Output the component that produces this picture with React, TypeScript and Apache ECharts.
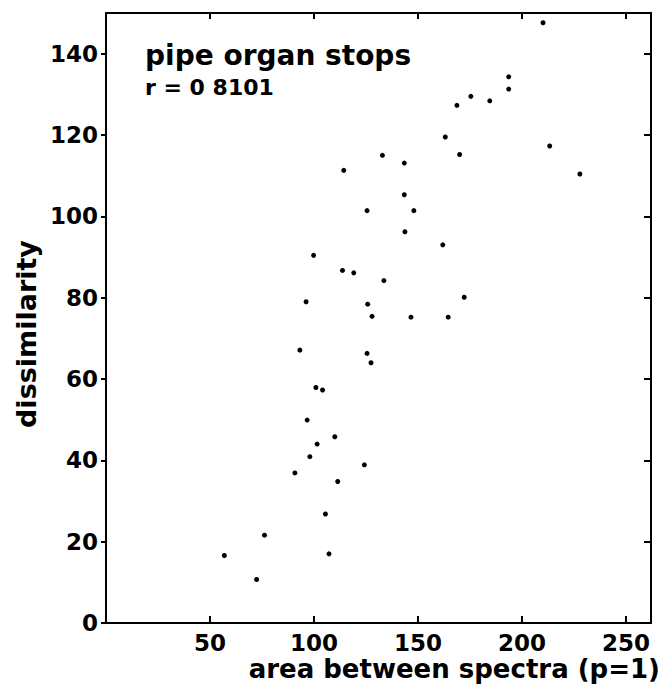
import React, { useEffect, useRef } from "react";
import * as echarts from "echarts";

const areaBetweenSpectra = [
  114.3, 210.1, 193.6, 193.6, 175.4, 184.5, 168.7, 163.1, 213.3, 132.9, 170.0, 143.4, 143.4, 227.8,
  125.5, 99.8, 113.7, 119.1, 96.2, 125.8, 127.9, 93.2, 125.5, 127.4, 100.9, 104.1,
  148.0, 143.7, 161.9, 133.6, 172.2, 146.6, 164.5,
  96.7, 110.0, 101.5, 98.0, 90.8, 124.2, 111.4, 105.5, 76.2, 107.2, 56.9, 72.4,
];
const dissimilarity = [
  111.3, 147.6, 134.3, 131.3, 129.5, 128.4, 127.3, 119.5, 117.3, 115.0, 115.2, 113.1, 105.3, 110.4,
  101.4, 90.4, 86.7, 86.1, 79.0, 78.4, 75.4, 67.1, 66.3, 64.0, 57.9, 57.3,
  101.4, 96.2, 93.0, 84.2, 80.1, 75.2, 75.2,
  49.9, 45.8, 44.0, 40.9, 36.9, 38.9, 34.8, 26.8, 21.6, 17.0, 16.6, 10.7,
];
const xTicks = [50, 100, 150, 200, 250];
const yTicks = [0, 20, 40, 60, 80, 100, 120, 140];
const titleLines = ["pipe organ stops", "r = 0 8101"];
const xName = "area between spectra (p=1)";
const yName = "dissimilarity";

const FONT = "DejaVu Sans";

export default function App() {
  const ref = useRef<HTMLDivElement>(null);
  useEffect(() => {
    if (!ref.current) return;
    const chart = echarts.init(ref.current, null, { renderer: "svg" });
    const line = { show: true, onZero: false, lineStyle: { color: "#000", width: 2 } };
    chart.setOption({
      animation: false,
      backgroundColor: "#fff",
      grid: { left: 106, right: 14, top: 13, bottom: 61, containLabel: false },
      xAxis: [
        {
          type: "value",
          position: "bottom",
          min: 0,
          max: 262,
          interval: 50,
          axisLine: line,
          splitLine: { show: false },
          axisTick: { show: true, inside: true, length: 7, customValues: xTicks, lineStyle: { color: "#000", width: 2 } },
          axisLabel: {
            show: true,
            customValues: xTicks,
            margin: 8,
            color: "#000",
            fontFamily: FONT,
            fontWeight: "bold",
            fontSize: 23,
          },
        },
        {
          type: "value",
          position: "top",
          min: 0,
          max: 262,
          interval: 50,
          axisLine: line,
          splitLine: { show: false },
          axisTick: { show: true, inside: true, length: 6, customValues: xTicks, lineStyle: { color: "#000", width: 2 } },
          axisLabel: { show: false },
        },
      ],
      yAxis: [
        {
          type: "value",
          position: "left",
          min: 0,
          max: 150,
          interval: 20,
          axisLine: line,
          splitLine: { show: false },
          axisTick: { show: true, inside: false, length: 5, customValues: yTicks, lineStyle: { color: "#000", width: 2 } },
          axisLabel: {
            show: true,
            customValues: yTicks,
            margin: 8,
            color: "#000",
            fontFamily: FONT,
            fontWeight: "bold",
            fontSize: 23,
          },
        },
        {
          type: "value",
          position: "right",
          min: 0,
          max: 150,
          interval: 20,
          axisLine: line,
          splitLine: { show: false },
          axisTick: { show: true, inside: true, length: 7, customValues: yTicks, lineStyle: { color: "#000", width: 2 } },
          axisLabel: { show: false },
        },
      ],
      graphic: [
        {
          type: "text",
          left: 145,
          top: 41,
          style: { text: titleLines[0], fill: "#000", font: `bold 28px "${FONT}"` },
        },
        {
          type: "text",
          left: 145,
          top: 76,
          style: { text: titleLines[1], fill: "#000", font: `bold 22px "${FONT}"` },
        },
        {
          type: "text",
          x: 660,
          y: 669,
          style: {
            text: xName,
            fill: "#000",
            font: `bold 26px "${FONT}"`,
            align: "right",
            verticalAlign: "middle",
          },
        },
        {
          type: "text",
          x: 26,
          y: 334,
          rotation: Math.PI / 2,
          style: {
            text: yName,
            fill: "#000",
            font: `bold 27px "${FONT}"`,
            align: "center",
            verticalAlign: "middle",
          },
        },
      ],
      series: [
        {
          type: "scatter",
          xAxisIndex: 0,
          yAxisIndex: 0,
          symbol: "circle",
          symbolSize: 5,
          itemStyle: { color: "#000", opacity: 1 },
          data: areaBetweenSpectra.map((x, i) => [x, dissimilarity[i]]),
        },
      ],
    });
    return () => chart.dispose();
  }, []);
  return (
    <div
      ref={ref}
      style={{ position: "fixed", left: 0, top: 0, width: 665, height: 684, background: "#fff" }}
    />
  );
}
